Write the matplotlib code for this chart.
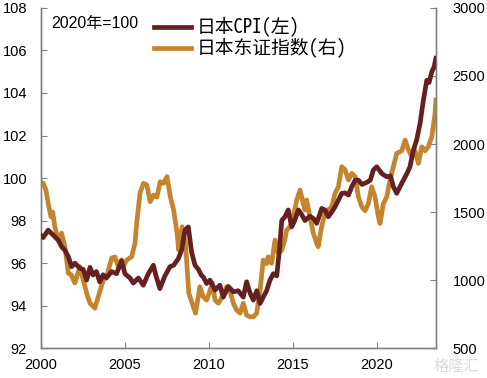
import numpy as np
import matplotlib.pyplot as plt

plt.rcParams['font.family'] = ['Liberation Sans', 'Noto Sans CJK SC']

# 日本CPI (left axis, 2020=100)
cpi_t = [2000.0, 2000.14, 2000.43, 2000.83, 2001.03, 2001.23, 2001.43, 2001.63, 2001.83, 2002.02,
         2002.32, 2002.52, 2002.72, 2002.92, 2003.1, 2003.3, 2003.5, 2003.7, 2003.9, 2004.2,
         2004.5, 2004.8, 2005.0, 2005.3, 2005.5, 2005.8, 2006.09, 2006.39, 2006.69, 2006.85,
         2007.08, 2007.38, 2007.68, 2007.9, 2008.17, 2008.37, 2008.57, 2008.77, 2008.97, 2009.17,
         2009.37, 2009.57, 2009.66, 2009.86, 2010.06, 2010.36, 2010.65, 2010.85, 2011.15, 2011.45,
         2011.74, 2012.04, 2012.24, 2012.44, 2012.64, 2012.84, 2013.04, 2013.23, 2013.43, 2013.63,
         2013.83, 2014.03, 2014.19, 2014.33, 2014.52, 2014.72, 2014.92, 2015.1, 2015.32, 2015.5,
         2015.71, 2016.0, 2016.21, 2016.41, 2016.71, 2016.9, 2017.1, 2017.3, 2017.5, 2017.7,
         2017.9, 2018.1, 2018.3, 2018.5, 2018.7, 2018.89, 2019.1, 2019.4, 2019.6, 2019.78,
         2019.98, 2020.3, 2020.58, 2020.8, 2020.97, 2021.17, 2021.37, 2021.57, 2021.77, 2021.96,
         2022.16, 2022.36, 2022.56, 2022.76, 2022.96, 2023.1, 2023.26, 2023.4, 2023.5]
cpi_v = [97.3, 97.2, 97.55, 97.24, 97.08, 96.77, 96.6, 96.3, 95.83, 96.0,
         95.75, 95.7, 95.2, 95.8, 95.44, 95.6, 95.12, 95.45, 95.3, 95.6,
         95.5, 96.1, 95.5, 95.3, 95.06, 95.3, 94.96, 95.5, 95.9, 95.4,
         94.8, 95.4, 95.83, 95.9, 96.2, 96.6, 97.55, 97.7, 96.5, 95.9,
         95.7, 95.4, 95.35, 95.04, 95.2, 94.73, 94.96, 94.4, 94.9, 94.65,
         94.7, 94.4, 95.12, 94.6, 94.26, 94.7, 94.1, 94.4, 94.7, 95.2,
         95.5, 95.4, 96.6, 98.0, 98.18, 98.5, 97.7, 98.0, 98.5, 98.3,
         98.0, 98.2, 98.1, 97.87, 98.57, 98.5, 98.18, 98.4, 98.65, 98.96,
         99.28, 99.3, 99.2, 99.6, 99.9, 99.9, 99.7, 99.8, 99.9, 100.38,
         100.53, 100.2, 100.06, 100.1, 99.6, 99.28, 99.6, 99.9, 100.2, 100.53,
         101.3, 101.8, 102.57, 103.67, 104.6, 104.5, 105.0, 105.24, 105.63]

# 日本东证指数 (right axis)
tpx_t = [2000.0, 2000.14, 2000.3, 2000.43, 2000.6, 2000.7, 2000.83, 2001.03, 2001.23, 2001.43,
         2001.63, 2001.8, 2002.02, 2002.32, 2002.52, 2002.72, 2002.92, 2003.21, 2003.41, 2003.71,
         2003.91, 2004.21, 2004.4, 2004.6, 2004.8, 2004.9, 2005.1, 2005.4, 2005.6, 2005.7,
         2005.9, 2006.1, 2006.3, 2006.5, 2006.7, 2006.9, 2007.1, 2007.3, 2007.5, 2007.7,
         2007.9, 2008.1, 2008.2, 2008.4, 2008.6, 2008.8, 2009.0, 2009.2, 2009.46, 2009.66,
         2009.86, 2010.0, 2010.2, 2010.36, 2010.56, 2010.75, 2011.05, 2011.25, 2011.45, 2011.65,
         2011.85, 2012.04, 2012.24, 2012.44, 2012.64, 2012.84, 2013.04, 2013.23, 2013.43, 2013.53,
         2013.73, 2013.93, 2014.13, 2014.33, 2014.52, 2014.62, 2014.82, 2015.02, 2015.22, 2015.42,
         2015.61, 2015.71, 2015.81, 2016.0, 2016.21, 2016.41, 2016.5, 2016.7, 2016.9, 2017.1,
         2017.3, 2017.5, 2017.7, 2017.9, 2018.1, 2018.3, 2018.5, 2018.7, 2018.89, 2019.09,
         2019.29, 2019.48, 2019.68, 2019.88, 2020.08, 2020.18, 2020.38, 2020.58, 2020.77, 2020.97,
         2021.17, 2021.47, 2021.67, 2021.86, 2022.06, 2022.26, 2022.46, 2022.66, 2022.86, 2023.05,
         2023.26, 2023.45, 2023.5]
tpx_v = [1720, 1711, 1662, 1566, 1465, 1500, 1392, 1294, 1345, 1245,
         1051, 1040, 978, 1098, 1000, 904, 830, 794, 877, 1000,
         1024, 1162, 1170, 1100, 1150, 1098, 1147, 1171, 1272, 1419,
         1640, 1711, 1700, 1576, 1625, 1610, 1723, 1711, 1760, 1612,
         1515, 1345, 1220, 1392, 1272, 904, 830, 757, 951, 877,
         853, 900, 978, 853, 830, 870, 951, 920, 830, 779,
         757, 830, 743, 730, 730, 757, 926, 1147, 1120, 1171,
         1123, 1294, 1196, 1220, 1300, 1368, 1392, 1465, 1588, 1662,
         1564, 1515, 1588, 1470, 1345, 1270, 1245, 1392, 1490, 1515,
         1539, 1637, 1686, 1833, 1810, 1735, 1784, 1760, 1612, 1539,
         1510, 1560, 1686, 1612, 1465, 1416, 1564, 1612, 1735, 1833,
         1931, 1950, 2029, 1960, 1907, 1950, 1858, 1980, 1950, 1980,
         2054, 2225, 2324]

cpi_color = '#652121'
tpx_color = '#C4852E'
grey = '#808080'

fig = plt.figure(figsize=(4.87, 3.78), dpi=100)
ax = fig.add_axes([0.084, 0.079, 0.811, 0.9])
ax2 = ax.twinx()

l1, = ax.plot(cpi_t, cpi_v, color=cpi_color, lw=3.4, zorder=3)
l2, = ax2.plot(tpx_t, tpx_v, color=tpx_color, lw=3.4, zorder=2)
ax.set_zorder(ax2.get_zorder() + 1)
ax.patch.set_visible(False)

ax.set_xlim(2000, 2023.5)
ax.set_ylim(92, 108)
ax.set_yticks(np.arange(92, 109, 2))
ax.set_xticks([2000, 2005, 2010, 2015, 2020])
ax2.set_ylim(500, 3000)
ax2.set_yticks(np.arange(500, 3001, 500))

for a in (ax, ax2):
    a.spines['top'].set_visible(False)
    for s in ('left', 'right', 'bottom'):
        a.spines[s].set_color(grey)
        a.spines[s].set_linewidth(1.0)
    a.tick_params(direction='in', length=4, color=grey, labelsize=10.5, width=0.8)
ax.tick_params(axis='y', pad=10)
ax.tick_params(axis='x', pad=7)
ax2.tick_params(axis='y', pad=12)

ax.text(0.025, 0.953, '2020年=100', transform=ax.transAxes, fontsize=11.5,
        va='center', ha='left')
leg = ax.legend([l1, l2], ['日本CPI(左)', '日本东证指数(右)'],
                loc='upper left', bbox_to_anchor=(0.252, 1.012), frameon=False,
                prop={'family': ['Noto Sans Mono CJK SC', 'Noto Sans CJK SC'], 'size': 13.5},
                handlelength=2.0, handletextpad=0.3, labelspacing=0.05,
                borderpad=0.2)

fig.text(0.985, 0.03, '格隆汇', fontsize=11, color='#dadada', ha='right',
         va='center', family=['Noto Sans CJK SC'])

fig.savefig('out.png', dpi=100)
